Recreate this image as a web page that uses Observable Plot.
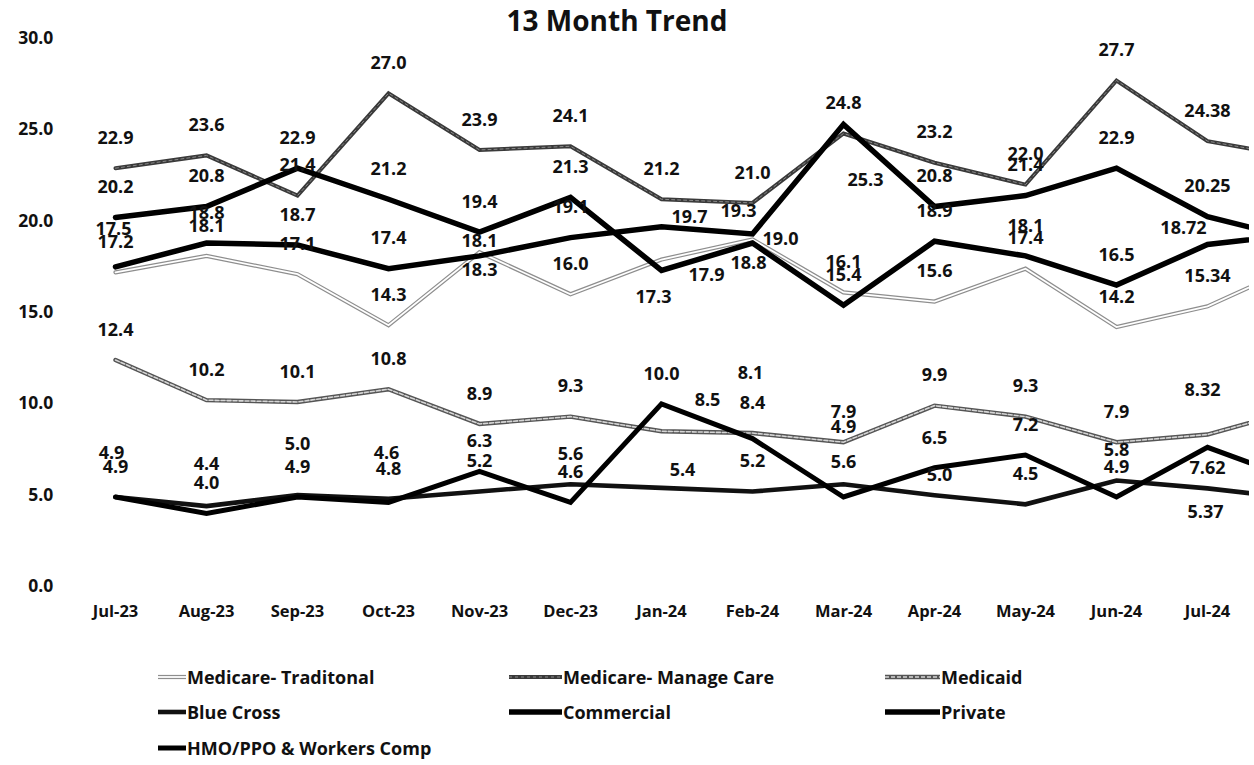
<!DOCTYPE html>
<html><head><meta charset="utf-8">
<script src="https://cdn.jsdelivr.net/npm/d3@7"></script>
<script src="https://cdn.jsdelivr.net/npm/@observablehq/plot@0.6"></script>
<style>
body{margin:0;background:#fff;font-family:"Open Sans",sans-serif;}
#wrap{position:relative;width:1254px;height:765px;overflow:hidden;}
#chart{position:absolute;top:0;left:0;}
#title{position:absolute;top:2px;left:0;width:1234px;text-align:center;font-weight:700;font-size:28px;line-height:36px;color:#111;}
.item{position:absolute;display:flex;align-items:center;font-weight:700;font-size:18px;color:#111;white-space:nowrap;}
.item svg{display:block;}
</style></head><body>
<div id="wrap"><div id="chart"></div><div id="title">13 Month Trend</div><div id="legend"></div></div>
<script>
// months (the last one is cut off at the right edge of the original chart)
const months = ["Jul-23","Aug-23","Sep-23","Oct-23","Nov-23","Dec-23","Jan-24","Feb-24","Mar-24","Apr-24","May-24","Jun-24","Jul-24","Aug-24"];
const seriesNames = ["Medicare- Traditonal","Medicare- Manage Care","Medicaid","Blue Cross","Commercial","Private","HMO/PPO & Workers Comp"];
const yTicks = [0, 5, 10, 15, 20, 25, 30];

const medicareTraditional = [17.2, 18.1, 17.1, 14.3, 18.3, 16.0, 17.9, 19.0, 16.1, 15.6, 17.4, 14.2, 15.34, 17.6];
const medicareManageCare  = [22.9, 23.6, 21.4, 27.0, 23.9, 24.1, 21.2, 21.0, 24.8, 23.2, 22.0, 27.7, 24.38, 23.5];
const medicaid            = [12.4, 10.2, 10.1, 10.8, 8.9, 9.3, 8.5, 8.4, 7.9, 9.9, 9.3, 7.9, 8.32, 9.7];
const blueCross           = [4.9, 4.4, 5.0, 4.8, 5.2, 5.6, 5.4, 5.2, 5.6, 5.0, 4.5, 5.8, 5.37, 4.8];
const commercial          = [20.2, 20.8, 22.9, 21.2, 19.4, 21.3, 17.3, 18.8, 15.4, 18.9, 18.1, 16.5, 18.72, 19.3];
const privatePay          = [17.5, 18.8, 18.7, 17.4, 18.1, 19.1, 19.7, 19.3, 25.3, 20.8, 21.4, 22.9, 20.25, 19.0];
const hmoPpoWorkersComp   = [4.9, 4.0, 4.9, 4.6, 6.3, 4.6, 10.0, 8.1, 4.9, 6.5, 7.2, 4.9, 7.62, 5.8];

const seriesValues = [medicareTraditional, medicareManageCare, medicaid, blueCross, commercial, privatePay, hmoPpoWorkersComp];

// ---- styling (kept separate from the data) ----
const styles = {
  "Medicare- Traditonal": [{stroke:"#8e8e8e", w:4.2}, {stroke:"#ffffff", w:1.8}],
  "Medicare- Manage Care": [{stroke:"#3a3a3a", w:4}, {stroke:"#8a8a8a", w:1, dash:"3,3"}],
  "Medicaid": [{stroke:"#555555", w:4.4}, {stroke:"#d6d6d6", w:1.6, dash:"4,2"}],
  "Blue Cross": [{stroke:"#111111", w:4.6}],
  "Commercial": [{stroke:"#000000", w:5.5}],
  "Private": [{stroke:"#000000", w:5.5}],
  "HMO/PPO & Workers Comp": [{stroke:"#000000", w:5}]
};
// data-label placement: default above the point; some labels were moved in the original
const labelDefault = [0, -30];
const labelMoves = {
  "Private|Jul-23": [-2, -38],
  "Blue Cross|Jul-23": [-4, -44],
  "Blue Cross|Aug-23": [0, -42],
  "Blue Cross|Sep-23": [0, -51],
  "HMO/PPO & Workers Comp|Oct-23": [-2, -49],
  "Private|Nov-23": [0, -15],
  "Medicare- Traditonal|Nov-23": [0, 18],
  "Private|Jan-24": [28, -9],
  "Medicare- Traditonal|Jan-24": [45, 16],
  "Commercial|Jan-24": [-8, 27],
  "Medicaid|Jan-24": [46, -31],
  "Blue Cross|Jan-24": [21, -18],
  "Private|Feb-24": [-14, -23],
  "Medicare- Traditonal|Feb-24": [28, 0],
  "Commercial|Feb-24": [-4, 20],
  "HMO/PPO & Workers Comp|Feb-24": [-2, -65],
  "Private|Mar-24": [22, 56],
  "HMO/PPO & Workers Comp|Mar-24": [0, -70],
  "Blue Cross|Mar-24": [0, -22],
  "Blue Cross|Apr-24": [5, -20],
  "Commercial|Jul-24": [-24, -16],
  "Medicaid|Jul-24": [-5, -44],
  "HMO/PPO & Workers Comp|Jul-24": [0, 21],
  "Blue Cross|Jul-24": [-2, 24]
};

const rows = [];
seriesNames.forEach((s, k) => seriesValues[k].forEach((v, i) => rows.push({series: s, i, month: months[i], value: v})));
const labelRows = rows.filter(d => d.i <= 12).map(d => {
  const m = labelMoves[d.series + "|" + d.month] || labelDefault;
  return {...d, dx: m[0], dy: m[1], text: d.i === 12 ? d.value.toFixed(2) : d.value.toFixed(1)};
});

const lineMarks = [];
seriesNames.forEach(s => {
  const data = rows.filter(d => d.series === s);
  styles[s].forEach(st => {
    lineMarks.push(Plot.line(data, {x: "i", y: "value", stroke: st.stroke, strokeWidth: st.w,
      strokeDasharray: st.dash || null, strokeLinejoin: "miter", strokeMiterlimit: 2, clip: true}));
  });
});

// group labels by offset so each text mark gets a constant dx/dy
const offsetGroups = d3.groups(labelRows, d => d.dx + "," + d.dy);
const labelMarks = offsetGroups.map(([key, data]) => Plot.text(data, {
  x: "i", y: "value", text: "text", dx: data[0].dx, dy: data[0].dy,
  fontSize: 18, fontWeight: 700, fill: "#111"
}));

const W = 1254, H = 645;
const mL = 96.8, mR = 5, mT = 38, mB = H - 586;

const chart = Plot.plot({
  width: W, height: H,
  marginLeft: mL, marginRight: mR, marginTop: mT, marginBottom: mB,
  style: {fontFamily: "'Open Sans', sans-serif", fontWeight: 700, color: "#111", background: "transparent"},
  x: {type: "linear", domain: [-0.2, 12.4615], label: null},
  y: {domain: [0, 30], label: null},
  marks: [
    ...lineMarks,
    ...labelMarks,
    Plot.axisX({ticks: d3.range(13), tickFormat: i => months[i], tickSize: 0, tickPadding: 19, fontSize: 16.5, fontWeight: 700}),
    Plot.axisY({ticks: yTicks, tickFormat: d => d.toFixed(1), tickSize: 0, tickPadding: 44, fontSize: 17.5, fontWeight: 700})
  ]
});
document.getElementById("chart").appendChild(chart);

// legend
const legendPos = [
  {x: 158, y: 677, sw: 28}, {x: 509, y: 677, sw: 53}, {x: 885, y: 677, sw: 55},
  {x: 158, y: 712, sw: 28}, {x: 509, y: 712, sw: 53}, {x: 885, y: 712, sw: 55},
  {x: 158, y: 748, sw: 28}
];
const legend = d3.select("#legend");
seriesNames.forEach((s, k) => {
  const p = legendPos[k];
  const item = legend.append("div").attr("class", "item").style("left", p.x + "px").style("top", (p.y - 13) + "px").style("height", "26px");
  const svg = item.append("svg").attr("width", p.sw + 1).attr("height", 10);
  styles[s].forEach(st => {
    svg.append("line").attr("x1", 0).attr("x2", p.sw).attr("y1", 5).attr("y2", 5)
      .attr("stroke", st.stroke).attr("stroke-width", st.w).attr("stroke-dasharray", st.dash || null);
  });
  item.append("span").text(s);
});
</script>
</body></html>
